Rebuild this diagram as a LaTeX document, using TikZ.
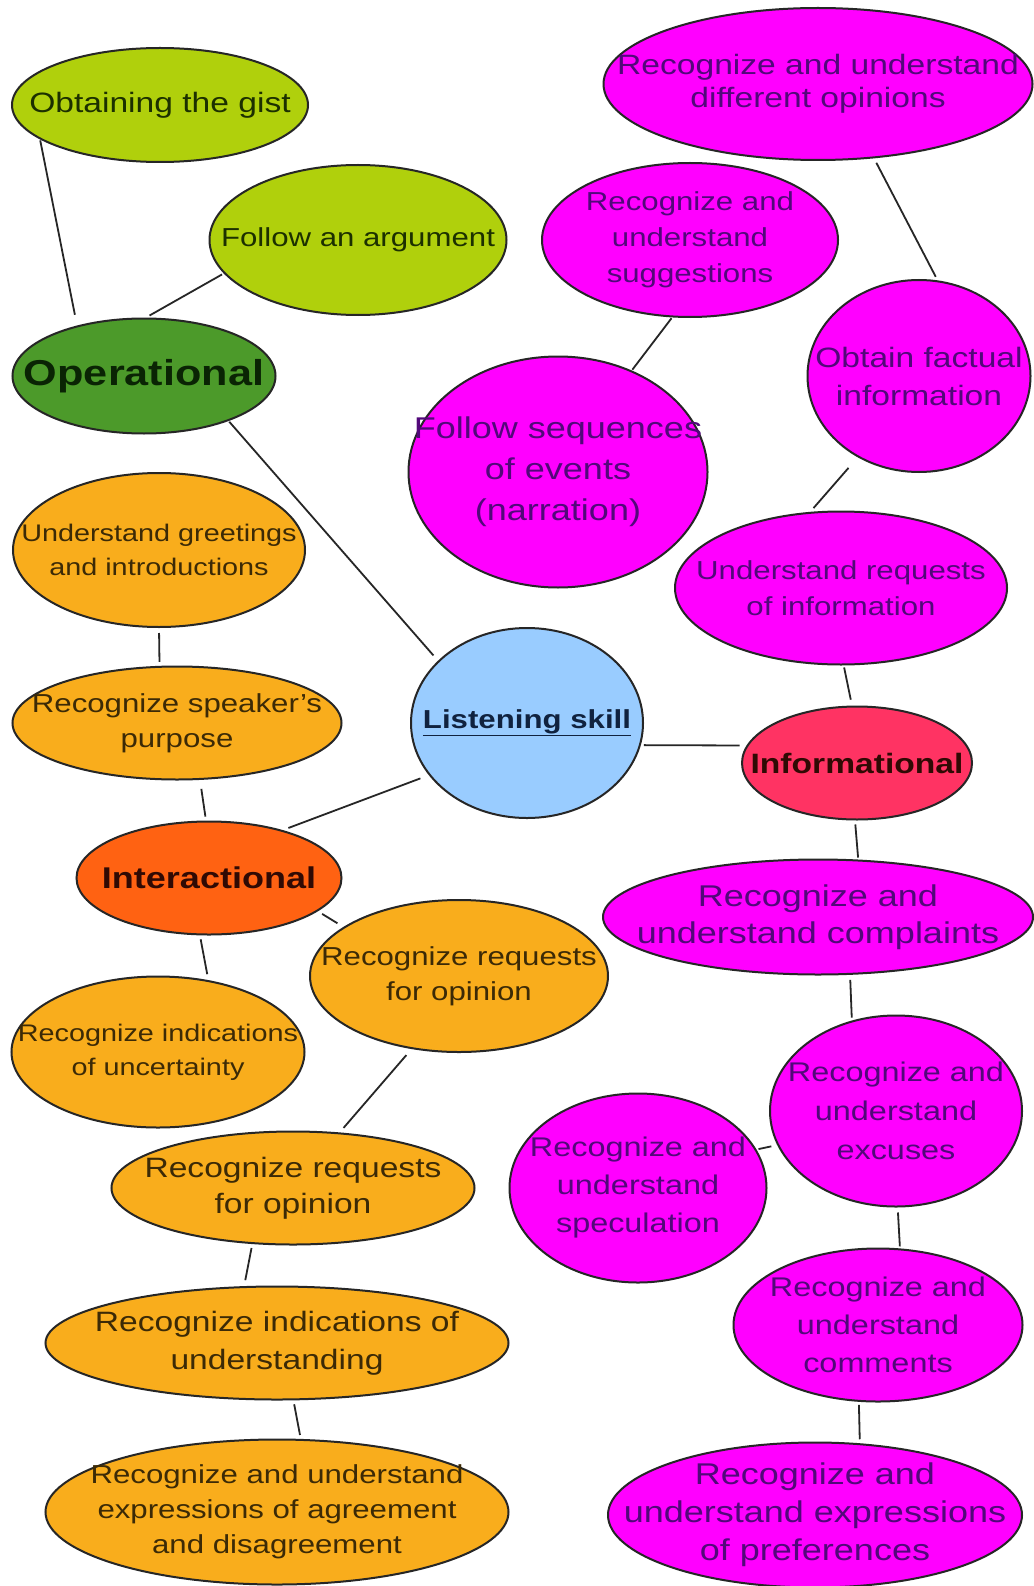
\documentclass[tikz,border=0pt]{standalone}
\usepackage{fontspec}
\setmainfont[FakeStretch=1.2]{Liberation Sans}
\usetikzlibrary{shapes.geometric}

\definecolor{cLime}{HTML}{B0D00C}
\definecolor{cOper}{HTML}{4C9A2A}
\definecolor{cMag}{HTML}{FF00FF}
\definecolor{cOrg}{HTML}{F9AD1C}
\definecolor{cInter}{HTML}{FF6212}
\definecolor{cInfo}{HTML}{FF3363}
\definecolor{cSky}{HTML}{99CCFF}
\definecolor{tGreen}{HTML}{1C3000}
\definecolor{tOper}{HTML}{0A2404}
\definecolor{tPurp}{HTML}{52087A}
\definecolor{tBrown}{HTML}{3C2A06}
\definecolor{tNavy}{HTML}{10223F}
\definecolor{tDark}{HTML}{300A04}

\newcommand{\fs}[2]{\fontsize{#1}{#2}\selectfont}

\tikzset{
	bub/.style={ellipse, draw=black!85, line width=2pt, inner sep=0pt},
	lbl/.style={align=center, inner sep=0pt},
	green/.style={bub, fill=cLime},
	mag/.style={bub, fill=cMag},
	org/.style={bub, fill=cOrg},
	gtxt/.style={lbl, text=tGreen},
	ptxt/.style={lbl, text=tPurp},
	otxt/.style={lbl, text=tBrown},
	link/.style={draw=black!85, line width=1.8pt, shorten <=4pt, shorten >=4pt}
}

\begin{document}
\begin{tikzpicture}[x=1pt, y=-1pt]
			%%%%% START %%%%%
			\useasboundingbox[fill=white] (0,0) rectangle (1033,1586);
			
			\node[green, minimum width=296pt, minimum height=114pt, label={[gtxt, font=\fs{28}{33}]center:Obtaining the gist}] (gist) at (160,105) {};
			\node[green, minimum width=297pt, minimum height=150pt, label={[gtxt, font=\fs{26}{33}]center:Follow an argument}] (argument) at (358,240) {};
			\node[bub, fill=cOper, minimum width=263pt, minimum height=115pt, label={[lbl, text=tOper, font=\fs{36}{40}\bfseries]center:Operational}] (oper) at (144,376) {};
			
			\node[mag, minimum width=429pt, minimum height=152pt, label={[ptxt, font=\fs{28}{33}]center:Recognize and understand\\different opinions}] (opinions) at (818,84) {};
			\node[mag, minimum width=296pt, minimum height=154pt, label={[ptxt, font=\fs{26}{36}]center:Recognize and\\understand\\suggestions}] (suggest) at (690,240) {};
			\node[mag, minimum width=223pt, minimum height=192pt, label={[ptxt, font=\fs{28}{38}]center:Obtain factual\\information}] (factual) at (919,376) {};
			\node[mag, minimum width=299pt, minimum height=231pt, label={[ptxt, font=\fs{30}{41}]center:Follow sequences\\of events\\(narration)}] (sequence) at (558,472) {};
			\node[mag, minimum width=332pt, minimum height=153pt, label={[ptxt, font=\fs{26}{36}]center:Understand requests\\of information}] (reqinfo) at (841,588) {};
			
			\node[org, minimum width=292pt, minimum height=154pt, label={[otxt, font=\fs{24}{34}]center:Understand greetings\\and introductions}] (greet) at (159,550) {};
			\node[org, minimum width=329pt, minimum height=113pt, label={[otxt, font=\fs{26}{35}]center:Recognize speaker's\\purpose}] (purpose) at (177,723) {};
			
			\node[bub, fill=cSky, minimum width=232pt, minimum height=190pt, label={[lbl, text=tNavy, font=\fs{26}{30}\bfseries]center:\underline{Listening skill}}] (listen) at (527,723) {};
			\node[bub, fill=cInfo, minimum width=230pt, minimum height=113pt, label={[lbl, text=tDark, font=\fs{28}{32}\bfseries]center:Informational}] (inform) at (857,763) {};
			\node[bub, fill=cInter, minimum width=265pt, minimum height=113pt, label={[lbl, text=tDark, font=\fs{30}{34}\bfseries]center:Interactional}] (interact) at (209,878) {};
			
			\node[mag, minimum width=430pt, minimum height=115pt, label={[ptxt, font=\fs{30}{37}]center:Recognize and\\understand complaints}] (complain) at (818,917) {};
			\node[mag, minimum width=252pt, minimum height=191pt, label={[ptxt, font=\fs{27}{39}]center:Recognize and\\understand\\excuses}] (excuse) at (896,1111) {};
			\node[mag, minimum width=257pt, minimum height=189pt, label={[ptxt, font=\fs{27}{38}]center:Recognize and\\understand\\speculation}] (specul) at (638,1188) {};
			\node[mag, minimum width=289pt, minimum height=153pt, label={[ptxt, font=\fs{27}{38}]center:Recognize and\\understand\\comments}] (comment) at (878,1325) {};
			\node[mag, minimum width=414pt, minimum height=145pt, label={[ptxt, font=\fs{30}{38}]center:Recognize and\\understand expressions\\of preferences}] (prefer) at (815,1515) {};
			
			\node[org, minimum width=298pt, minimum height=152pt, label={[otxt, font=\fs{26}{35}]center:Recognize requests\\for opinion}] (reqop) at (459,976) {};
			\node[org, minimum width=293pt, minimum height=151pt, label={[otxt, font=\fs{24}{34}]center:Recognize indications\\of uncertainty}] (uncert) at (158,1052) {};
			\node[org, minimum width=363pt, minimum height=113pt, label={[otxt, font=\fs{28}{36}]center:Recognize requests\\for opinion}] (reqopb) at (293,1188) {};
			\node[org, minimum width=463pt, minimum height=113pt, label={[otxt, font=\fs{28}{38}]center:Recognize indications of\\understanding}] (understd) at (277,1343) {};
			\node[org, minimum width=463pt, minimum height=145pt, label={[otxt, font=\fs{26}{35}]center:Recognize and understand\\expressions of agreement\\and disagreement}] (agree) at (277,1512) {};
			
			\draw[link, shorten <=1pt, shorten >=11pt] (gist.196) -- (oper.143);
			\draw[link, shorten <=2pt] (argument.194) -- (oper.88);
			\draw[link, shorten <=1pt, shorten >=7pt] (oper.332) -- (listen.145);
			\draw[link, shorten <=9pt, shorten >=6pt] (listen.208) -- (interact.33);
			\draw[link, shorten <=3pt, shorten >=7pt] (listen.-11) -- (inform.171);
			
			\draw[link, shorten <=5pt] (greet.270) -- (purpose.107);
			\draw[link, shorten <=9pt] (purpose.292) -- (interact.93);
			\draw[link, shorten >=6pt] (interact.261) -- (uncert.55);
			\draw[link, shorten <=5pt, shorten >=7pt] (interact.343) -- (reqop.157);
			\draw[link, shorten <=8pt, shorten >=6pt] (reqop.237) -- (reqopb.50);
			\draw[link, shorten >=6pt] (reqopb.234) -- (understd.120);
			\draw[link] (understd.286) -- (agree.72);
			
			\draw[link, shorten <=5pt] (opinions.307) -- (factual.79);
			\draw[link, shorten <=1pt, shorten >=1pt] (suggest.257) -- (sequence.54);
			\draw[link, shorten <=14pt, shorten >=5pt] (factual.233) -- (reqinfo.112);
			\draw[link, shorten <=2pt, shorten >=6pt] (reqinfo.272) -- (inform.95);
			\draw[link, shorten >=2pt] (inform.268) -- (complain.55);
			\draw[link, shorten <=5pt, shorten >=3pt] (complain.299) -- (excuse.116);
			\draw[link, shorten <=6pt, shorten >=2pt] (excuse.196) -- (specul.18);
			\draw[link, shorten <=5pt, shorten >=2pt] (excuse.271) -- (comment.74);
			\draw[link, shorten <=3pt] (comment.256) -- (prefer.58);
			%%%%% END %%%%%
\end{tikzpicture}
\end{document}
